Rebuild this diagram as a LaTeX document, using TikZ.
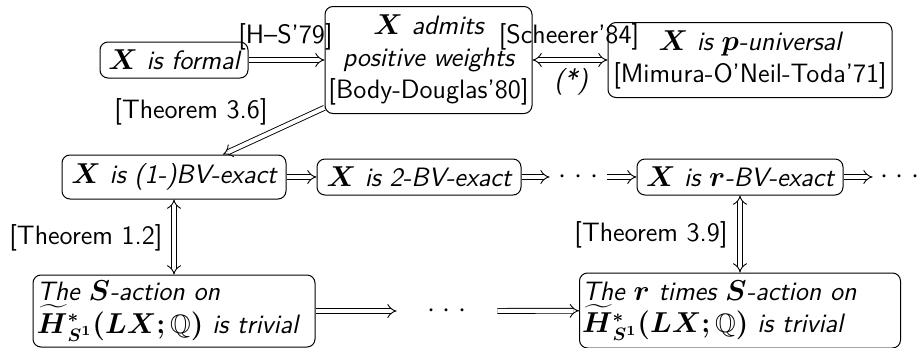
\documentclass[tikz,border=0pt]{standalone}
\usepackage{amsmath,amssymb,bm}
\usetikzlibrary{arrows.meta}
\begin{document}
\begin{tikzpicture}[x=0.5pt,y=-0.5pt,
  font=\fontsize{13.3}{16.2}\selectfont\sffamily,
  box/.style={draw, rounded corners=4pt, line width=0.5pt, inner sep=0pt, align=center,
    font=\fontsize{13.3}{16.2}\selectfont\sffamily\itshape},
  lbl/.style={inner sep=0pt},
  dotsnode/.style={inner sep=0pt, minimum height=10pt},
  imp/.style={double, double distance=2pt, line width=0.45pt, -{Implies[scale=1.25]}},
  iff/.style={imp, {Implies[scale=1.25]}-{Implies[scale=1.25]}},
]
\newcommand{\mydots}{$\cdotp\mkern2mu\cdotp\mkern2mu\cdotp$}
\useasboundingbox (0,0) rectangle (917,348);

% row 1
\node[box, minimum width=74pt, minimum height=18pt] (formal) at (174,60) {$\bm{X}$ is formal};
\node[box, minimum width=103.5pt, minimum height=53.5pt] (admits) at (428.5,60)
  {$\bm{X}$ admits\\positive weights\\\upshape[Body-Douglas'80]};
\node[box, minimum width=142pt, minimum height=37.5pt] (puniv) at (750,60)
  {$\bm{X}$ is $\bm{p}$-universal\\\upshape[Mimura-O'Neil-Toda'71]};

% row 2
\node[box, minimum width=112pt, minimum height=22pt] (bv1) at (174,177) {$\bm{X}$ is (1-)BV-exact};
\node[box, minimum width=102pt, minimum height=18pt] (bv2) at (419,177) {$\bm{X}$ is 2-BV-exact};
\node[dotsnode, minimum width=28.5pt] (dots1) at (578.5,177) {\mydots};
\node[box, minimum width=103pt, minimum height=18pt] (bvr) at (740,177) {$\bm{X}$ is $\bm{r}$-BV-exact};
\node[dotsnode, minimum width=27pt] (dots2) at (900,177) {\mydots};

% row 3
\node[box, minimum width=141pt, minimum height=36pt, text width=137pt, inner xsep=2pt, align=left] (saction) at (174,311)
  {The $\bm{S}$-action on\\$\widetilde{\bm{H}}{}^{\bm{*}}_{\bm{S}^{\bm{1}}}\bm{(LX;}\mathbb{Q}\bm{)}$ is trivial};
\node[dotsnode, minimum width=50pt] (dots3) at (447,311) {\mydots};
\node[box, minimum width=160.5pt, minimum height=37.5pt, text width=158pt, inner xsep=1.25pt, align=left] (rtimes) at (740,310.5)
  {The $\bm{r}$ times $\bm{S}$-action on\\$\widetilde{\bm{H}}{}^{\bm{*}}_{\bm{S}^{\bm{1}}}\bm{(LX;}\mathbb{Q}\bm{)}$ is trivial};

% labels
\node[lbl] (lhs) at (285.5,37) {[H--S'79]};
\node[lbl] (lsch) at (569,37) {[Scheerer'84]};
\node[lbl] (lstar) at (571,82) {\itshape(*)};
\node[lbl] (l36) at (191,112) {[Theorem 3.6]};
\node[lbl] (l12) at (86,238) {[Theorem 1.2]};
\node[lbl] (l39) at (651,235) {[Theorem 3.9]};

% arrows
\draw[imp] (formal) -- (admits);
\draw[iff] (admits) -- (puniv);
\draw[imp] (admits) -- (bv1);
\draw[imp] (bv1) -- (bv2);
\draw[imp] (bv2) -- (dots1);
\draw[imp] (dots1) -- (bvr);
\draw[imp] (bvr) -- (dots2);
\draw[iff] (bv1) -- (saction);
\draw[iff] (bvr) -- (rtimes);
\draw[imp] (saction) -- (dots3);
\draw[imp] (dots3) -- (rtimes);
\end{tikzpicture}
\end{document}
